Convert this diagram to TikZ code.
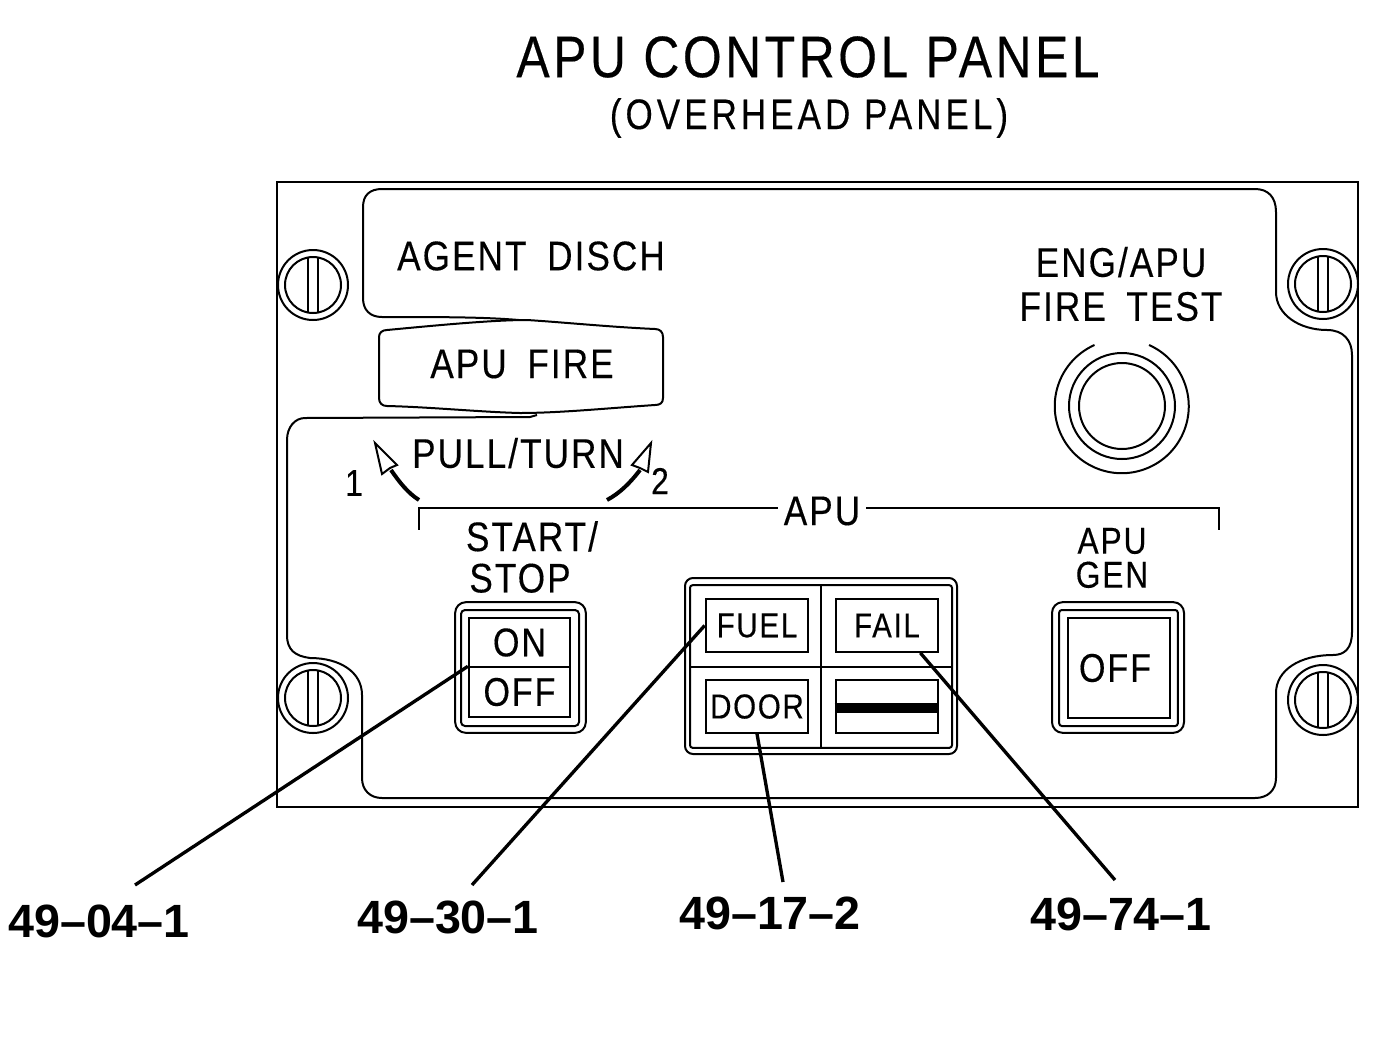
\documentclass[tikz,border=0pt]{standalone}
\usepackage{fontspec}
\setmainfont{Liberation Sans}
\newfontfamily\panelfont[FakeStretch=0.85,LetterSpace=5,FakeBold=0.3]{Liberation Sans}
\newfontfamily\titlefont[FakeStretch=0.85,LetterSpace=6,FakeBold=0.3]{Liberation Sans}
\newfontfamily\subfont[FakeStretch=0.82,LetterSpace=9.5,FakeBold=0.3]{Liberation Sans}
\usetikzlibrary{positioning}
\tikzset{
    panel/.style = {line width=1.5pt,black},
    mytext/.style = {inner sep=0pt,align=center,font=\panelfont\fontsize{31}{33}\selectfont},
    mytitle/.style = {inner sep=0pt,font=\titlefont\fontsize{44}{48}\selectfont},
    mysub/.style = {inner sep=0pt,font=\subfont\fontsize{32}{36}\selectfont},
    mypart/.style = {inner sep=0pt,font=\fontsize{35}{38}\selectfont\bfseries},
    mysmall/.style = {inner sep=0pt,font=\panelfont\fontsize{28}{29}\selectfont},
    mylamp/.style = {rectangle,draw,panel,inner sep=0pt,minimum width=77pt,minimum height=39.5pt,font=\panelfont\fontsize{26}{29}\selectfont},
    myframe/.style = {rectangle,draw,panel,inner sep=0pt,rounded corners=#1},
    myswitch/.style = {rectangle,draw,panel,inner sep=0pt,minimum width=76pt,font=\panelfont\fontsize{30}{30}\selectfont},
    screwa/.style = {circle,draw,panel,fill=white,inner sep=0pt,minimum size=52.5pt},
    screwb/.style = {circle,draw,panel,inner sep=0pt,minimum size=42pt},
    ring/.style = {circle,draw,panel,inner sep=0pt},
    leader/.style = {-,line width=2.5pt,black}
}
\begin{document}
\begin{tikzpicture}[x=0.75pt,y=-0.75pt]
\useasboundingbox (0,0) rectangle (1400,1036);
% titles
\node[mytitle] (title) at (808,57) {APU CONTROL PANEL};
\node[mysub] (subtitle) at (809,118) {(OVERHEAD PANEL)};
% plate
\draw[panel] (277,182) rectangle (1358,807);
\draw[panel] (537,322) .. controls (500,317) and (450,317) .. (382,317)
  .. controls (370,317) and (363,310) .. (363,298) -- (363,207)
  .. controls (363,195) and (370,189) .. (382,189) -- (1255,189)
  .. controls (1268,189) and (1276,197) .. (1276,212) -- (1276,292)
  .. controls (1276,315) and (1300,330) .. (1327,330)
  .. controls (1343,330) and (1352,340) .. (1352,355) -- (1352,632)
  .. controls (1352,648) and (1345,655) .. (1333,655)
  .. controls (1300,655) and (1276,670) .. (1276,693) -- (1276,778)
  .. controls (1276,790) and (1268,798) .. (1255,798) -- (382,798)
  .. controls (370,798) and (362,790) .. (362,778) -- (362,695)
  .. controls (362,672) and (340,658) .. (310,658)
  .. controls (295,656) and (287,650) .. (287,635) -- (287,440)
  .. controls (287,427) and (295,418) .. (305,418) -- (530,417) -- (537,415);
% screws
\foreach \n/\x/\y in {sa/313/285,sb/1323/284,sc/313/698,sd/1323/700}{
  \node[screwa] (\n) at (\x,\y) {};
  \node[screwb] (\n i) at (\x,\y) {};
  \draw[panel] (\x-5,\y-27) -- (\x-5,\y+27) (\x+5,\y-27) -- (\x+5,\y+27);
}
% fire handle
\draw[panel,fill=white] (387,330) .. controls (430,326) and (490,320) .. (527,320)
  .. controls (560,322) and (610,327) .. (655,329)
  .. controls (660,329) and (663,332) .. (663,337) -- (663,398)
  .. controls (663,403) and (660,405) .. (655,405)
  .. controls (610,408) and (560,413) .. (520,413)
  .. controls (480,412) and (430,407) .. (387,406)
  .. controls (382,406) and (379,403) .. (379,398) -- (379,337)
  .. controls (379,333) and (382,330) .. (387,330) -- cycle;
\node[mytext] (agent) at (531,256) {AGENT\hspace{0.5em}DISCH};
\node[mytext] (fire) at (522,364) {APU\hspace{0.5em}FIRE};
\node[mytext] (pull) at (518,453) {PULL/TURN};
\node[mysmall] (one) at (354,483) {1};
\node[mysmall] (two) at (660,481) {2};
% turn arrows
\draw[panel,line width=3pt] (419,500) .. controls (408,493) and (400,483) .. (391,470);
\draw[panel,fill=white] (375,443) -- (397,465) -- (390,468) -- (382,474) -- cycle;
\draw[panel,line width=3pt] (607,500) .. controls (620,493) and (630,483) .. (640,470);
\draw[panel,fill=white] (651,443) -- (632,465) -- (640,468) -- (648,472) -- cycle;
% bracket
\node[mytext] (apu) at (822,511) {APU};
\coordinate (bl) at (419,530);
\coordinate (br) at (1219,530);
\draw[panel] (apu.west) ++(-6,-3) -| (bl);
\draw[panel] (apu.east) ++(6,-3) -| (br);
% fire test
\node[mytext] (test) at (1121,284) {ENG/APU\\FIRE\hspace{0.5em}TEST};
\coordinate (btn) at (1122,406);
\node[ring,minimum size=64.5pt] (btnb) at (btn) {};
\node[ring,minimum size=79.5pt] (btnc) at (btn) {};
\draw[panel] (1149,345) arc[start angle=294,end angle=606,radius=67];
% start switch
\node[mytext,font=\panelfont\fontsize{31}{31}\selectfont] (start) at (520,557) {\hspace*{18pt}START/\\STOP};
\node[myframe=8pt,minimum width=98pt,minimum height=98pt] (swa) at (520.5,667.5) {};
\node[myframe=3pt,minimum width=88.5pt,minimum height=87pt] (swb) at (520,668) {};
\node[myswitch,minimum height=37pt] (swon) at (519.5,642.5) {\raisebox{-1pt}{ON}};
\node[myswitch,minimum height=37pt] (swoff) at (519.5,692) {\raisebox{-1pt}{OFF}};
% fault box
\node[myframe=6pt,minimum width=204pt,minimum height=132pt] (boxa) at (821,666) {};
\node[myframe=2pt,minimum width=196.5pt,minimum height=122pt] (boxb) at (821,666.5) {};
\draw[panel] (boxb.north) -- (boxb.south);
\draw[panel] (boxb.west) -- (boxb.east);
\node[mylamp] (fuel) at (757,625.5) {FUEL};
\node[mylamp] (fail) at (887,625.5) {FAIL};
\node[mylamp] (door) at (757,706.5) {DOOR};
\node[mylamp] (blank) at (887,706.5) {};
\draw[line width=7pt] (blank.west) ++(0,1.5) -- ++(102,0);
% gen switch
\node[mytext,font=\panelfont\fontsize{28}{25.5}\selectfont] (gen) at (1112,558) {APU\\GEN};
\node[myframe=8pt,minimum width=99pt,minimum height=98pt] (gena) at (1118,667.5) {};
\node[myframe=2pt,minimum width=89pt,minimum height=87pt] (genb) at (1118.5,668) {};
\node[myswitch,minimum height=75pt] (genoff) at (1119,668) {\raisebox{-1.5pt}{OFF}\hspace*{6pt}};
% part numbers
\node[mypart] (pa) at (99,921) {49–04–1};
\node[mypart] (pb) at (448,917) {49–30–1};
\node[mypart] (pc) at (770,913) {49–17–2};
\node[mypart] (pd) at (1121,914) {49–74–1};
\coordinate (ca) at (135,885);
\coordinate (cb) at (472,885);
\coordinate (cc) at (783,882);
\coordinate (cd) at (1115,880);
\draw[leader] (ca) -- (swoff.north west);
\draw[leader] (cb) -- (fuel.west);
\draw[leader] (cc) -- (door.south);
\draw[leader] (cd) -- ([xshift=25pt]fail.south);
\end{tikzpicture}
\end{document}
